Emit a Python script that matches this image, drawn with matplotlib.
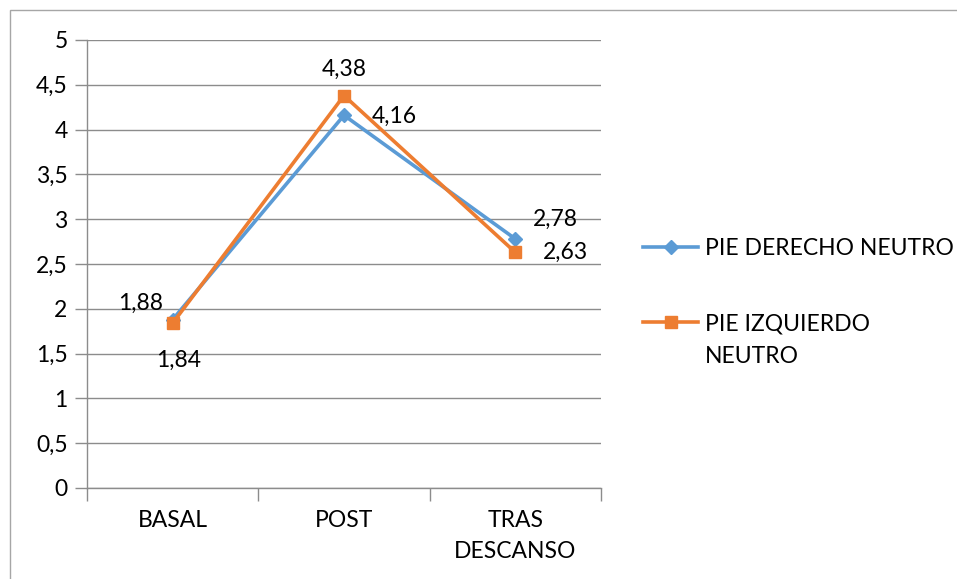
import numpy as np
import matplotlib.pyplot as plt
from matplotlib.patches import Rectangle

plt.rcParams['font.family'] = ['Lato', 'DejaVu Sans']

categorias = ['BASAL', 'POST', 'TRAS\nDESCANSO']
pie_derecho = [1.88, 4.16, 2.78]
pie_izquierdo = [1.84, 4.38, 2.63]
series_labels = ['PIE DERECHO NEUTRO', 'PIE IZQUIERDO NEUTRO']
yticks = [0, 0.5, 1, 1.5, 2, 2.5, 3, 3.5, 4, 4.5, 5]

FS = 16.5
W, H = 957, 579
fig = plt.figure(figsize=(W / 100, H / 100), dpi=100)

# outer chart frame
fig.patches.append(Rectangle((10 / W, -0.1), 1.2, (H - 10) / H + 0.1,
                             transform=fig.transFigure, fill=False,
                             edgecolor='#a6a6a6', linewidth=1.0))

ax = fig.add_axes([87 / W, (H - 488) / H, (601 - 87) / W, (488 - 40) / H])
x = np.arange(len(categorias))

azul = '#5b9bd5'
naranja = '#ed7d31'
ax.plot(x, pie_derecho, color=azul, lw=2.6, marker='D', ms=7,
        label=series_labels[0], zorder=3)
ax.plot(x, pie_izquierdo, color=naranja, lw=2.6, marker='s', ms=9,
        label=series_labels[1], zorder=4)

ax.set_xlim(-0.5, 2.5)
ax.set_ylim(0, 5)
ax.set_yticks(yticks)
ax.set_yticklabels([('%g' % v).replace('.', ',') for v in yticks])
ax.yaxis.grid(True, color='#8c8c8c', lw=1.0)
ax.set_axisbelow(True)

ax.set_xticks(x)
ax.set_xticklabels(categorias, linespacing=1.55)
ax.set_xticks([-0.5, 0.5, 1.5, 2.5], minor=True)
ax.tick_params(axis='x', which='major', length=0, pad=16, labelsize=FS)
ax.tick_params(axis='x', which='minor', length=9, color='#8c8c8c', width=1)
ax.tick_params(axis='y', length=9, color='#8c8c8c', width=1, pad=5, labelsize=FS)

for s in ['top', 'right']:
    ax.spines[s].set_visible(False)
for s in ['left', 'bottom']:
    ax.spines[s].set_color('#8c8c8c')
    ax.spines[s].set_linewidth(1.0)

def fmt(v):
    return ('%.2f' % v).replace('.', ',')

# data labels
ax.annotate(fmt(pie_derecho[0]), (x[0], pie_derecho[0]), xytext=(-32, 16),
            textcoords='offset pixels', ha='center', va='center', fontsize=FS)
ax.annotate(fmt(pie_izquierdo[0]), (x[0], pie_izquierdo[0]), xytext=(6, -37),
            textcoords='offset pixels', ha='center', va='center', fontsize=FS)
ax.annotate(fmt(pie_izquierdo[1]), (x[1], pie_izquierdo[1]), xytext=(0, 26),
            textcoords='offset pixels', ha='center', va='center', fontsize=FS)
ax.annotate(fmt(pie_derecho[1]), (x[1], pie_derecho[1]), xytext=(50, -1),
            textcoords='offset pixels', ha='center', va='center', fontsize=FS)
ax.annotate(fmt(pie_derecho[2]), (x[2], pie_derecho[2]), xytext=(40, 20),
            textcoords='offset pixels', ha='center', va='center', fontsize=FS)
ax.annotate(fmt(pie_izquierdo[2]), (x[2], pie_izquierdo[2]), xytext=(50, 0),
            textcoords='offset pixels', ha='center', va='center', fontsize=FS)

# legend: second label wraps onto a second line under the first one
handles, _ = ax.get_legend_handles_labels()
primera, segunda = series_labels[1].rsplit(' ', 1)
leg = ax.legend(handles, [series_labels[0], primera], loc='upper left',
                bbox_to_anchor=(634 / W, (H - 229) / H),
                bbox_transform=fig.transFigure, frameon=False, fontsize=FS,
                handlelength=2.4, handletextpad=0.3, labelspacing=2.35,
                borderaxespad=0)
fig.canvas.draw()
bb = leg.get_texts()[1].get_window_extent()
fig.text(bb.x0 / W, (bb.y0 - 33) / H, segunda, fontsize=FS, ha='left', va='bottom')

fig.savefig('out.png', dpi=100)
